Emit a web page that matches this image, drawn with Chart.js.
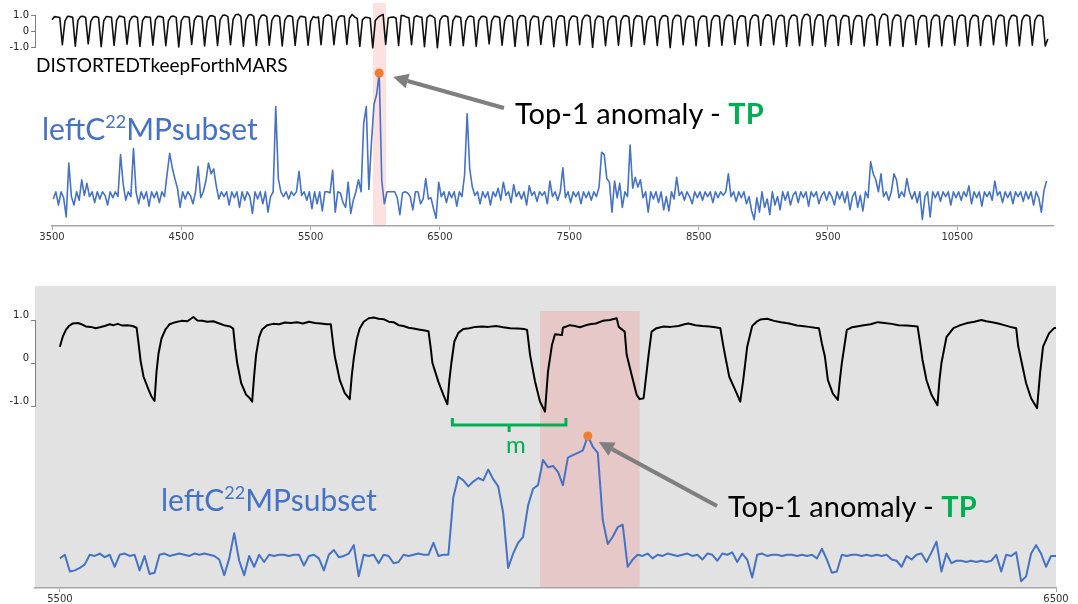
<!DOCTYPE html>
<html>
<head>
<meta charset="utf-8">
<title>Top-1 anomaly</title>
<script src="https://cdn.jsdelivr.net/npm/chart.js@4.4.1/dist/chart.umd.min.js"></script>
<style>
  html, body { margin: 0; padding: 0; background: #fff; }
  #page { position: relative; width: 1078px; height: 604px; overflow: hidden; font-family: Lato, "Open Sans", sans-serif; }
  canvas { position: absolute; left: 0; }
  .txt { position: absolute; white-space: nowrap; line-height: 1; }
  .series { color: #4472C4; font-size: 30px; }
  .series .sup { font-size: 18px; position: relative; top: -12px; }
  .note { color: #000; font-size: 29px; }
  .tp { color: #00B050; font-weight: bold; }
</style>
</head>
<body>
<div id="page">
  <canvas id="fullScoreChart" width="1078" height="245" style="top:0"></canvas>
  <canvas id="fullSignalChart" width="1078" height="60" style="top:0"></canvas>
  <canvas id="zoomScoreChart" width="1078" height="324" style="top:280px"></canvas>
  <canvas id="zoomSignalChart" width="1078" height="140" style="top:290px"></canvas>

  <div class="txt" style="left:36px; top:55px; font-size:19px; color:#000;">DISTORTEDTkeepForthMARS</div>
  <div class="txt series" style="left:42px; top:113px;">leftC<span class="sup">22</span>MPsubset</div>
  <div class="txt note" style="left:515px; top:98px;">Top-1 anomaly - <span class="tp">TP</span></div>

  <div class="txt series" style="left:161px; top:484px;">leftC<span class="sup">22</span>MPsubset</div>
  <div class="txt note" style="left:728px; top:491px;">Top-1 anomaly - <span class="tp">TP</span></div>
  <div class="txt" style="left:506px; top:432px; font-size:24px; color:#00B050;">m</div>
</div>

<script>
// ---- data ----

// top panel: whole series, x axis ticks
var fullTicks = [3500, 4500, 5500, 6500, 7500, 8500, 9500, 10500];

// DISTORTEDTkeepForthMARS, one value every 20 samples from 3500
var fullSignal = [
  0.70, 0.90, 0.88, 0.84, -0.85, 0.62, 0.92, 0.90, 0.86, -0.95,   // 3500
  0.66, 0.90, 0.92, 0.85, -0.80, 0.60, 0.88, 0.90, 0.83, -0.98,   // 3700
  0.64, 0.91, 0.89, 0.86, -0.90, 0.68, 0.93, 0.91, 0.84, -0.82,   // 3900
  0.62, 0.89, 0.92, 0.85, -0.96, 0.66, 0.90, 0.88, 0.86, -0.88,   // 4100
  0.70, 0.92, 0.90, 0.84, -0.92, 0.63, 0.91, 0.93, 0.85, -1.00,   // 4300
  0.65, 0.90, 0.89, 0.86, -0.84, 0.67, 0.93, 0.92, 0.87, -0.93,   // 4500
  0.64, 0.94, 0.96, 0.88, -0.90, 0.70, 0.98, 0.99, 0.90, -0.86,   // 4700
  0.72, 1.02, 1.05, 0.92, -0.95, 0.70, 1.00, 1.03, 0.91, -0.90,   // 4900
  0.68, 0.98, 1.00, 0.90, -0.88, 0.66, 0.95, 0.97, 0.88, -0.94,   // 5100
  0.67, 0.93, 0.96, 0.88, -0.90, 0.65, 0.92, 0.90, 0.86, -0.88,   // 5300
  0.60, 0.90, 0.83, 0.88, -0.86, 0.81, 0.98, 1.00, 0.90, -0.85,   // 5500
  0.60, 0.90, 0.95, 0.92, -0.84, 0.80, 1.03, 0.88, 0.78, -0.96,   // 5700
  0.70, 0.85, 0.84, 0.80, -1.05, 0.65, 0.85, 0.95, 1.04, -0.84,   // 5900
  0.81, 0.86, 0.88, 0.82, -0.90, 0.97, 0.96, 0.87, 0.82, -0.86,   // 6100
  0.85, 0.95, 0.89, 0.85, -0.98, 0.84, 0.98, 0.93, 0.81, -1.05,   // 6300
  0.66, 0.92, 0.95, 0.88, -0.90, 0.64, 0.93, 0.90, 0.85, -0.92,   // 6500
  0.62, 0.91, 0.93, 0.86, -0.95, 0.66, 0.90, 0.92, 0.84, -0.80,   // 6700
  0.65, 0.92, 0.90, 0.85, -0.88, 0.63, 0.94, 0.96, 0.87, -0.96,   // 6900
  0.68, 0.95, 0.97, 0.88, -0.92, 0.65, 0.93, 0.91, 0.86, -0.84,   // 7100
  0.62, 0.90, 0.92, 0.86, -0.98, 0.66, 0.94, 0.95, 0.88, -0.90,   // 7300
  0.64, 0.92, 0.93, 0.86, -0.86, 0.68, 0.96, 0.98, 0.89, -1.02,   // 7500
  0.66, 0.93, 0.91, 0.85, -0.92, 0.63, 0.90, 0.93, 0.86, -0.88,   // 7700
  0.65, 0.94, 0.96, 0.87, -0.95, 0.70, 0.95, 0.94, 0.88, -0.84,   // 7900
  0.62, 0.91, 0.93, 0.86, -0.90, 0.64, 0.93, 0.97, 0.88, -1.04,   // 8100
  0.68, 0.96, 0.98, 0.89, -0.86, 0.66, 0.94, 0.92, 0.86, -0.92,   // 8300
  0.63, 0.92, 0.94, 0.87, -0.96, 0.65, 0.95, 0.97, 0.89, -0.88,   // 8500
  0.67, 0.96, 0.99, 0.90, -0.84, 0.64, 0.93, 0.95, 0.88, -0.94,   // 8700
  0.66, 0.97, 1.00, 0.91, -0.90, 0.68, 0.98, 1.01, 0.90, -0.86,   // 8900
  0.65, 0.95, 0.98, 0.89, -0.96, 0.67, 0.97, 1.00, 0.90, -0.92,   // 9100
  0.70, 1.02, 1.05, 0.92, -0.88, 0.66, 0.99, 1.02, 0.91, -0.95,   // 9300
  0.64, 0.96, 0.98, 0.89, -0.90, 0.66, 0.97, 0.96, 0.88, -0.84,   // 9500
  0.65, 0.95, 0.97, 0.89, -0.94, 0.69, 1.00, 1.04, 0.92, -0.88,   // 9700
  0.70, 1.03, 1.06, 0.93, -0.92, 0.66, 0.98, 1.00, 0.90, -0.96,   // 9900
  0.64, 0.96, 0.98, 0.89, -0.86, 0.66, 0.95, 0.97, 0.88, -1.00,   // 10100
  0.66, 0.96, 0.99, 0.90, -0.92, 0.64, 0.95, 0.96, 0.88, -0.88,   // 10300
  0.67, 0.97, 1.00, 0.90, -0.95, 0.65, 0.96, 0.98, 0.89, -0.90,   // 10500
  0.64, 0.95, 0.97, 0.88, -0.86, 0.66, 0.96, 0.99, 0.90, -0.94,   // 10700
  0.65, 0.96, 0.98, 0.89, -0.92, 0.67, 0.97, 0.99, 0.90, -0.88,   // 10900
  0.66, 0.96, 0.98, 0.90, -0.94, -0.50                            // 11100
];

// leftC22MPsubset score, one value every 20 samples from 3510
var fullScore = [
  -0.5, 0.1, -1.0, 0.1, -0.4, -2.0, 2.5, -0.3, -1.0, 0.1,   // 3510
  -0.6, 1.1, -0.2, 0.8, -0.3, 0.1, -0.8, 0.1, -0.5, 0.1,    // 3710
  -0.2, -1.0, 0.1, -0.4, 0.1, -0.3, 3.2, 0.8, -0.6, 0.1,    // 3910
  -0.3, 3.7, 0.1, -0.9, 0.1, -0.5, 0.1, -1.1, 0.1, -0.4,    // 4110
  0.1, -0.8, 0.1, -0.3, 1.6, 3.3, 2.1, 1.2, 0.4, -1.2,      // 4310
  0.1, -0.5, 0.1, -0.2, -0.9, 0.1, 2.2, -0.4, 0.1, 1.0,     // 4510
  2.5, 1.6, 2.0, 0.6, -0.5, 0.1, -0.3, 0.1, -1.0, 0.1,      // 4710
  -0.4, 0.1, -1.2, 0.1, -0.6, 0.1, -0.3, -1.7, 0.1, -0.5,   // 4910
  0.1, -0.9, 0.1, -1.6, -0.3, 0.1, 7.2, 1.2, 0.1, -0.3,     // 5110
  0.1, -0.5, 0.1, -0.2, 0.1, 1.8, -0.2, 0.1, -0.6, 0.1,     // 5310
  -1.3, 0.1, -0.9, 0.1, -1.5, 0.1, 0.1, 0.0, 1.9, -1.6,     // 5510
  0.1, 0.0, -0.8, -1.2, 0.9, -1.7, -0.6, 0.1, 1.1, 0.1,     // 5710
  5.8, 7.2, 0.3, 4.2, 7.4, 8.2, 10.0, 1.0, -0.9, 0.1,       // 5910
  0.1, 0.1, 0.1, -0.4, -1.8, 0.0, 0.1, 0.0, -0.3, -1.4,     // 6110
  0.1, 0.1, -0.9, -0.5, 1.2, -0.5, -0.4, -1.3, -2.1, 0.9,   // 6310
  -0.3, 0.1, -0.8, 0.1, -0.4, 0.1, -1.1, 0.1, -0.3, 1.5,    // 6510
  6.6, 2.0, 0.5, -0.2, 0.1, -0.9, 0.1, -0.4, 0.1, -1.0,     // 6710
  0.1, -0.3, 0.4, -0.6, 0.9, -0.2, 0.1, -0.8, 0.7, -0.3,    // 6910
  0.1, -0.5, 0.1, -1.0, 0.6, -0.2, 0.1, -0.7, 0.1, -0.2,    // 7110
  0.1, -0.9, 1.0, -0.3, 0.1, -0.6, 0.1, 2.1, -0.4, 0.1,     // 7310
  -0.8, 0.1, -0.3, 0.1, -0.9, 0.1, -0.4, 0.1, -0.6, 0.1,    // 7510
  -0.3, 0.5, 3.4, 3.2, 1.2, 0.9, -1.6, 1.0, -0.4, 0.8,      // 7710
  -1.2, 0.1, -0.3, 4.0, 0.4, 1.3, 0.5, 1.1, -0.4, 0.1,      // 7910
  -1.6, 0.1, -0.5, 0.1, -0.8, 0.1, -1.4, -0.3, -1.5, 0.1,   // 8110
  -0.5, 1.3, -0.2, 0.1, -0.6, 0.1, -0.3, -0.9, 0.1, -0.4,   // 8310
  0.1, -0.6, 0.1, -0.3, 0.1, -0.8, 0.1, -0.4, 0.1, -0.2,    // 8510
  0.1, 1.6, -0.3, 0.1, -0.7, 0.1, -0.4, 0.1, -0.9, -0.3,    // 8710
  -1.5, -2.2, -0.4, -1.6, 0.1, -1.2, -0.5, -1.8, 0.1, -1.0, // 8910
  -0.3, -1.4, 0.1, -0.6, 0.1, -1.0, -0.2, 0.1, -0.8, 0.1,   // 9110
  -0.4, 0.1, -1.1, 0.1, -0.3, 0.1, -0.9, -0.2, 0.1, -0.6,   // 9310
  0.1, -0.3, -1.0, 0.1, -0.5, 0.1, -0.8, 0.1, -1.4, -0.3,   // 9510
  0.1, -1.2, -0.2, -1.5, 0.1, -0.4, 2.6, 1.6, 1.1, 0.1,     // 9710
  1.6, -0.3, 0.1, -0.6, 0.1, 1.6, 1.1, -0.4, 0.1, -0.3,     // 9910
  1.2, 0.1, -0.5, 0.1, -0.8, 0.1, -2.2, -0.3, 0.1, -2.0,    // 10110
  0.1, -0.4, 0.1, -0.7, 0.1, -0.3, 0.1, -1.0, 0.1, -0.4,    // 10310
  0.1, -0.6, 0.1, -0.3, 0.6, -0.9, 0.1, -0.4, 0.1, -1.1,    // 10510
  0.1, -0.3, 0.1, -0.6, 1.0, -0.2, 0.1, -0.8, 0.1, -0.4,    // 10710
  0.1, -0.9, 0.1, -0.3, 0.1, -0.7, 0.1, -0.5, 0.1, -1.0,    // 10910
  0.1, -0.4, -1.6, 0.2, 1.0                                 // 11110
];

// bottom panel: zoom on 5500..6500
var zoomTicks = [5500, 6500];
var signalTicks = [1, 0, -1];

// [sample, value] of DISTORTEDTkeepForthMARS in the zoom
var zoomSignal = [
  [5500,0.38],[5503,0.62],[5506,0.77],[5509,0.86],[5513,0.92],[5518,0.93],[5522,0.90],[5526,0.85],[5531,0.84],[5536,0.81],
  [5540,0.83],[5545,0.86],[5550,0.90],[5554,0.88],[5558,0.91],[5563,0.87],[5568,0.88],[5573,0.86],[5577,0.82],
  [5579,0.45],[5581,0.05],[5584,-0.32],[5589,-0.62],[5592,-0.78],[5595,-0.88],
  [5597,-0.20],[5599,0.22],[5602,0.57],[5606,0.78],[5610,0.90],[5616,0.95],[5622,0.98],[5628,0.97],[5634,1.07],[5638,0.99],
  [5643,0.98],[5648,0.96],[5654,0.97],[5660,0.92],[5666,0.87],[5671,0.85],[5674,0.80],
  [5676,0.35],[5678,0.00],[5682,-0.47],[5687,-0.74],[5690,-0.80],[5693,-0.90],
  [5695,-0.30],[5697,0.20],[5700,0.60],[5703,0.78],[5708,0.88],[5714,0.91],[5720,0.90],[5726,0.94],[5732,0.93],[5738,0.95],
  [5744,0.92],[5750,0.96],[5756,0.93],[5762,0.92],[5768,0.90],[5772,0.90],
  [5774,0.50],[5776,0.15],[5781,-0.40],[5786,-0.70],[5791,-0.84],
  [5793,-0.30],[5795,0.10],[5798,0.55],[5801,0.80],[5805,0.96],[5810,1.04],[5815,1.06],[5820,1.03],[5825,1.02],[5830,0.96],
  [5835,0.95],[5840,0.88],[5845,0.86],[5850,0.82],[5855,0.80],[5860,0.78],[5865,0.76],[5870,0.74],
  [5872,0.40],[5874,0.00],[5880,-0.44],[5885,-0.74],[5889,-0.96],
  [5891,-0.40],[5893,0.00],[5896,0.50],[5900,0.70],[5905,0.79],[5911,0.81],[5917,0.84],[5924,0.85],[5930,0.84],[5938,0.86],
  [5945,0.83],[5952,0.81],[5960,0.80],[5966,0.79],[5969,0.77],
  [5972,0.19],[5977,-0.43],[5982,-0.90],[5987,-1.13],
  [5990,-0.20],[5994,0.42],[5997,0.67],[6004,0.65],[6005,0.82],[6012,0.88],[6017,0.86],[6022,0.83],[6027,0.87],[6032,0.90],
  [6038,0.92],[6045,0.98],[6052,1.00],[6059,1.04],[6061,0.84],[6067,0.73],
  [6069,0.19],[6074,-0.28],[6079,-0.74],[6082,-0.84],[6086,-0.82],
  [6091,0.19],[6094,0.73],[6099,0.81],[6106,0.85],[6113,0.84],[6121,0.86],[6127,0.90],[6131,0.92],[6138,0.88],[6145,0.86],
  [6152,0.85],[6158,0.83],[6163,0.81],
  [6166,0.40],[6168,0.15],[6172,-0.32],[6178,-0.63],[6183,-0.90],
  [6186,-0.40],[6190,0.38],[6195,0.86],[6200,0.97],[6203,1.01],[6210,1.03],[6217,0.98],[6224,0.95],[6232,0.92],[6240,0.87],
  [6245,0.86],[6252,0.84],[6258,0.82],[6262,0.81],
  [6265,0.45],[6268,0.15],[6271,-0.40],[6276,-0.71],[6281,-0.86],
  [6283,-0.40],[6285,0.00],[6290,0.77],[6295,0.83],[6300,0.85],[6307,0.88],[6314,0.90],[6321,0.95],[6328,0.93],[6335,0.91],
  [6342,0.88],[6350,0.87],[6356,0.86],[6361,0.85],
  [6364,0.40],[6366,0.07],[6370,-0.40],[6375,-0.74],[6381,-0.98],
  [6383,-0.40],[6385,0.00],[6390,0.60],[6397,0.81],[6404,0.88],[6411,0.93],[6418,0.96],[6425,1.00],[6430,0.97],[6436,0.95],
  [6442,0.92],[6448,0.88],[6454,0.84],[6460,0.81],
  [6462,0.40],[6465,0.07],[6470,-0.47],[6475,-0.82],[6481,-1.05],
  [6484,-0.24],[6487,0.38],[6493,0.69],[6498,0.81],[6500,0.82]
];

// leftC22MPsubset score in the zoom, one value every 5 samples from 5500
var zoomScore = [
  -0.2, 0.1, -1.3, -1.2, -1.0, -0.7, 0.1, 0.0, 0.2, -0.1,   // 5500
  0.1, -0.9, 0.1, 0.2, 0.0, 0.1, -1.2, 0.0, -1.5, -1.4,     // 5550
  0.1, 0.2, 0.0, 0.1, 0.2, 0.1, 0.0, 0.2, 0.1, 0.2,         // 5600
  0.1, 0.0, -0.3, -1.6, -0.2, 1.9, -0.4, -1.6, 0.0, -0.9,   // 5650
  0.1, -0.5, 0.1, 0.0, 0.1, 0.1, 0.0, 0.1, 0.1, -0.8,       // 5700
  0.0, 0.1, -0.2, -1.2, 0.1, 0.5, -0.1, 0.0, 0.2, 0.9,      // 5750
  -1.7, 0.1, 0.0, 0.1, -0.6, 0.1, 0.0, -0.6, -0.5, 0.1,     // 5800
  0.0, 0.1, 0.2, 0.1, 0.1, 1.1, 0.0, 0.1, 0.1, 4.9,         // 5850
  6.6, 6.3, 5.8, 6.2, 6.5, 6.3, 7.2, 6.4, 5.8, 3.6,         // 5900
  -1.0, 0.2, 1.1, 1.6, 4.2, 5.6, 5.9, 8.0, 7.4, 7.5,        // 5950
  7.0, 5.9, 8.2, 8.4, 8.6, 8.8, 10.0, 9.1, 8.6, 3.0,        // 6000
  1.0, 1.6, 2.4, 2.6, -0.9, -0.3, 0.1, 0.0, 0.2, -0.2,      // 6050
  0.1, 0.0, 0.2, 0.1, 0.0, 0.1, 0.2, 0.0, 0.1, -0.3,        // 6100
  0.2, 0.1, -0.4, 0.2, 0.1, 0.3, -0.5, 0.2, -0.3, -1.8,     // 6150
  0.1, 0.2, 0.0, 0.1, 0.1, 0.0, 0.1, 0.1, 0.0, 0.1,         // 6200
  0.0, 0.1, -0.2, 0.6, -0.3, -1.4, -1.3, 0.1, 0.0, 0.1,     // 6250
  0.1, 0.0, 0.1, 0.0, 0.1, 0.0, 0.1, -0.3, -0.4, -0.9,      // 6300
  0.0, -0.3, 0.1, 0.2, -0.5, 0.3, 1.2, -1.3, 0.2, -0.6,     // 6350
  -0.4, -0.4, -0.5, -0.4, -0.5, -0.4, -0.5, -0.4, 0.1, -1.3, // 6400
  0.1, 0.0, 0.3, -2.1, -1.7, 0.2, 0.9, 0.2, -0.9, 0.0,      // 6450
  0.0                                                       // 6500
];

// top-1 discord, the labelled anomaly and the window length m
var peakPoint = { x: 6030, y: 10 };
var anomalyRange = [5982, 6082];
var windowRange = [5894, 6008];

// ---- helpers ----
function toPoints(values, start, step) {
  return values.map(function (v, i) { return { x: start + i * step, y: v }; });
}

function fixedTicks(list) {
  return function (scale) { scale.ticks = list.map(function (v) { return { value: v }; }); };
}

function baseOptions(padding, scales) {
  return {
    responsive: false,
    animation: false,
    devicePixelRatio: 1,
    events: [],
    layout: { padding: padding },
    plugins: { legend: { display: false }, tooltip: { enabled: false } },
    scales: scales
  };
}

var tickFont = { family: 'DejaVu Sans', size: 10 };

function sampleAxis(min, max, ticks, height) {
  return {
    type: 'linear', min: min, max: max,
    afterBuildTicks: fixedTicks(ticks),
    afterFit: function (s) { s.height = height; },
    border: { color: '#a6a6a6', width: 1.5 },
    grid: { drawOnChartArea: false, tickLength: 4, color: '#a6a6a6' },
    ticks: { font: tickFont, color: '#333', padding: 1, maxRotation: 0, autoSkip: false,
             callback: function (v) { return String(v); } }
  };
}

function signalAxis(align) {
  return {
    min: -1, max: 1,
    afterBuildTicks: fixedTicks(signalTicks),
    afterFit: function (s) { s.width = 35; },
    border: { color: '#7f7f7f', width: 1 },
    grid: { drawOnChartArea: false, tickLength: 4, color: '#7f7f7f' },
    ticks: { font: tickFont, color: '#222', padding: 2, align: align,
             callback: function (v) { return v === 0 ? '0' : v.toFixed(1); } }
  };
}

function drawArrow(ctx, x0, y0, x1, y1) {
  var a = Math.atan2(y1 - y0, x1 - x0);
  var head = 15, half = 7.5;
  var bx = x1 - head * Math.cos(a), by = y1 - head * Math.sin(a);
  ctx.save();
  ctx.strokeStyle = '#7f7f7f';
  ctx.fillStyle = '#7f7f7f';
  ctx.lineWidth = 4;
  ctx.beginPath();
  ctx.moveTo(x0, y0);
  ctx.lineTo(bx, by);
  ctx.stroke();
  ctx.beginPath();
  ctx.moveTo(x1, y1);
  ctx.lineTo(bx + half * Math.sin(a), by - half * Math.cos(a));
  ctx.lineTo(bx - half * Math.sin(a), by + half * Math.cos(a));
  ctx.closePath();
  ctx.fill();
  ctx.restore();
}

// ---- top panel: score over the whole series ----
new Chart(document.getElementById('fullScoreChart'), {
  type: 'line',
  data: {
    datasets: [
      { data: [peakPoint], showLine: false, pointRadius: 4.5, pointBackgroundColor: '#ED7D31', pointBorderWidth: 0 },
      { data: toPoints(fullScore, 3510, 20), borderColor: '#4472C4', borderWidth: 1.6, pointRadius: 0, borderJoinStyle: 'round' }
    ]
  },
  options: baseOptions({ left: 52, right: 25, top: 60, bottom: 0 }, {
    x: sampleAxis(3500, 11240, fullTicks, 19),
    y: { display: false, min: -2.75, max: 11.08 }
  }),
  plugins: [{
    id: 'fullBand',
    beforeDraw: function (chart) {
      var x = chart.scales.x, ctx = chart.ctx;
      var x0 = x.getPixelForValue(anomalyRange[0]), x1 = x.getPixelForValue(anomalyRange[1]);
      ctx.save();
      ctx.fillStyle = '#fde0e0';
      ctx.fillRect(x0, 3, x1 - x0, chart.chartArea.bottom - 3);
      ctx.restore();
    },
    afterDatasetsDraw: function (chart) {
      var px = chart.scales.x.getPixelForValue(peakPoint.x);
      var py = chart.scales.y.getPixelForValue(peakPoint.y);
      drawArrow(chart.ctx, 504, 108, px + 14, py + 4);
    }
  }]
});

new Chart(document.getElementById('fullSignalChart'), {
  type: 'line',
  data: {
    datasets: [
      { data: toPoints(fullSignal, 3500, 20), borderColor: '#111', borderWidth: 1.6, pointRadius: 0, clip: false, borderJoinStyle: 'round' }
    ]
  },
  options: baseOptions({ left: 0, right: 25, top: 15, bottom: 13 }, {
    x: { type: 'linear', display: false, min: 3368.5, max: 11240 },
    y: signalAxis('center')
  })
});

// ---- bottom panel: zoom on the discord ----
new Chart(document.getElementById('zoomScoreChart'), {
  type: 'line',
  data: {
    datasets: [
      { data: [peakPoint], showLine: false, pointRadius: 4.5, pointBackgroundColor: '#ED7D31', pointBorderWidth: 0 },
      { data: toPoints(zoomScore, 5500, 5), borderColor: '#4472C4', borderWidth: 2, pointRadius: 0, borderJoinStyle: 'round' }
    ]
  },
  options: baseOptions({ left: 35, right: 22, top: 6, bottom: 0 }, {
    x: sampleAxis(5475, 6500, zoomTicks, 16),
    y: { display: false, min: -2.67, max: 22.5 }
  }),
  plugins: [{
    id: 'zoomBack',
    beforeDraw: function (chart) {
      var a = chart.chartArea, x = chart.scales.x, ctx = chart.ctx;
      var x0 = x.getPixelForValue(anomalyRange[0]), x1 = x.getPixelForValue(anomalyRange[1]);
      ctx.save();
      ctx.fillStyle = '#e2e2e2';
      ctx.fillRect(a.left, a.top, a.right - a.left, a.bottom - a.top);
      ctx.fillStyle = '#e6c8c8';
      ctx.fillRect(x0, 31, x1 - x0, a.bottom - 31);
      ctx.restore();
    },
    afterDatasetsDraw: function (chart) {
      var x = chart.scales.x, ctx = chart.ctx;
      var xa = x.getPixelForValue(windowRange[0]), xb = x.getPixelForValue(windowRange[1]);
      var xm = (xa + xb) / 2;
      ctx.save();
      ctx.strokeStyle = '#00B050';
      ctx.lineWidth = 3;
      ctx.beginPath();
      ctx.moveTo(xa, 138); ctx.lineTo(xa, 145); ctx.lineTo(xb, 145); ctx.lineTo(xb, 138);
      ctx.moveTo(xm, 145); ctx.lineTo(xm, 152);
      ctx.stroke();
      ctx.restore();
      var px = x.getPixelForValue(peakPoint.x);
      var py = chart.scales.y.getPixelForValue(peakPoint.y);
      drawArrow(ctx, 717, 226, px + 11, py + 6);
    }
  }]
});

new Chart(document.getElementById('zoomSignalChart'), {
  type: 'line',
  data: {
    datasets: [
      { data: zoomSignal.map(function (p) { return { x: p[0], y: p[1] }; }), borderColor: '#000', borderWidth: 2, pointRadius: 0, clip: false, borderJoinStyle: 'round' }
    ]
  },
  options: baseOptions({ left: 0, right: 22, top: 30, bottom: 24 }, {
    x: { type: 'linear', display: false, min: 5475, max: 6500 },
    y: signalAxis('end')
  })
});
</script>
</body>
</html>
